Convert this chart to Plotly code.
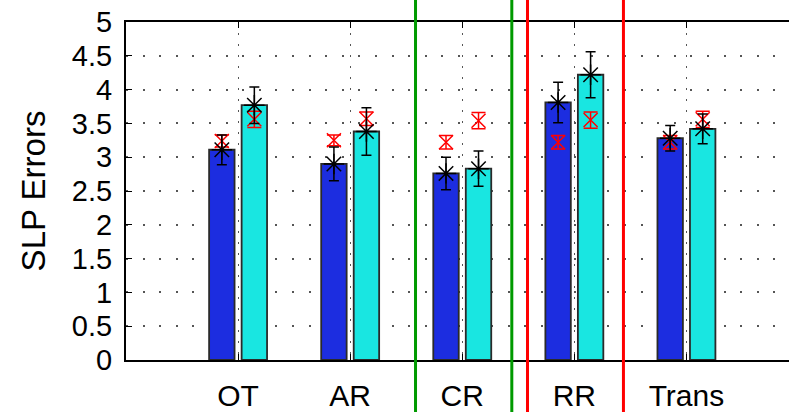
import plotly.graph_objects as go

categories = ["OT", "AR", "CR", "RR", "Trans"]
blue_vals = [3.11, 2.90, 2.76, 3.81, 3.28]
blue_err = [0.22, 0.25, 0.24, 0.30, 0.19]
cyan_vals = [3.77, 3.38, 2.83, 4.22, 3.42]
cyan_err = [0.27, 0.35, 0.26, 0.34, 0.22]
red_blue_vals = [3.24, 3.25, 3.22, 3.22, 3.22]
red_blue_err = [0.09, 0.08, 0.10, 0.10, 0.10]
red_cyan_vals = [3.56, 3.57, 3.54, 3.55, 3.56]
red_cyan_err = [0.12, 0.10, 0.12, 0.12, 0.12]
y_ticks = [0, 0.5, 1, 1.5, 2, 2.5, 3, 3.5, 4, 4.5, 5]
green_lines = [2.583, 3.442]
red_lines = [3.582, 4.438]

BLUE = "#1c2de0"
CYAN = "#19e6e1"
FONT = "Liberation Sans, Arial, Helvetica, sans-serif"
XR = [0, 5.915]
BAR_W = 0.227
OFF = 0.145

pos = list(range(1, len(categories) + 1))
pos_b = [p - OFF for p in pos]
pos_c = [p + OFF for p in pos]

fig = go.Figure()
fig.add_trace(go.Bar(x=pos_b, y=blue_vals, width=BAR_W, marker=dict(color=BLUE, line=dict(color="#2a2a2a", width=1.8)), showlegend=False))
fig.add_trace(go.Bar(x=pos_c, y=cyan_vals, width=BAR_W, marker=dict(color=CYAN, line=dict(color="#2a2a2a", width=1.8)), showlegend=False))

# red reference markers (hourglass)
for xs, ys, es in [(pos_b, red_blue_vals, red_blue_err), (pos_c, red_cyan_vals, red_cyan_err)]:
    fig.add_trace(go.Scatter(x=xs, y=ys, mode="markers",
                             marker=dict(symbol="x-thin-open", size=14, color="red", line=dict(color="red", width=1.5)),
                             error_y=dict(type="data", array=es, color="red", thickness=1.5, width=7),
                             showlegend=False))

# black markers with error bars
for xs, ys, es in [(pos_b, blue_vals, blue_err), (pos_c, cyan_vals, cyan_err)]:
    fig.add_trace(go.Scatter(x=xs, y=ys, mode="markers",
                             marker=dict(symbol="asterisk-open", size=17, color="black", line=dict(color="black", width=1.5)),
                             error_y=dict(type="data", array=es, color="black", thickness=1.5, width=5),
                             showlegend=False))

def to_paper(v):
    return (v - XR[0]) / (XR[1] - XR[0])

shapes = []
for v in green_lines:
    shapes.append(dict(type="line", xref="paper", yref="paper", x0=to_paper(v), x1=to_paper(v), y0=-0.3, y1=1.3,
                       line=dict(color="#009a00", width=3), layer="above"))
for v in red_lines:
    shapes.append(dict(type="line", xref="paper", yref="paper", x0=to_paper(v), x1=to_paper(v), y0=-0.3, y1=1.3,
                       line=dict(color="#ff0000", width=3), layer="above"))

fig.update_layout(
    width=789, height=412,
    margin=dict(l=126, r=0, t=22, b=45),
    paper_bgcolor="white", plot_bgcolor="white",
    font=dict(family=FONT, size=29, color="black"),
    shapes=shapes,
    xaxis=dict(range=XR, tickvals=pos, ticktext=categories, ticks="inside", ticklen=6, tickcolor="black",
               showline=True, linecolor="black", linewidth=2, mirror="ticks",
               showgrid=True, gridcolor="#555555", gridwidth=1.2, griddash="2px,9px",
               zeroline=False, tickfont=dict(size=30), ticklabelstandoff=8),
    yaxis=dict(range=[0, 5], tickvals=y_ticks, ticks="inside", ticklen=6, tickcolor="black",
               showline=True, linecolor="black", linewidth=2, mirror=False,
               showgrid=True, gridcolor="#555555", gridwidth=1.5, griddash="2px,14.6px",
               zeroline=False, tickfont=dict(size=29), ticklabelstandoff=6,
               title=dict(text="SLP Errors", font=dict(size=33), standoff=16)),
)

fig.write_html("out.html")
